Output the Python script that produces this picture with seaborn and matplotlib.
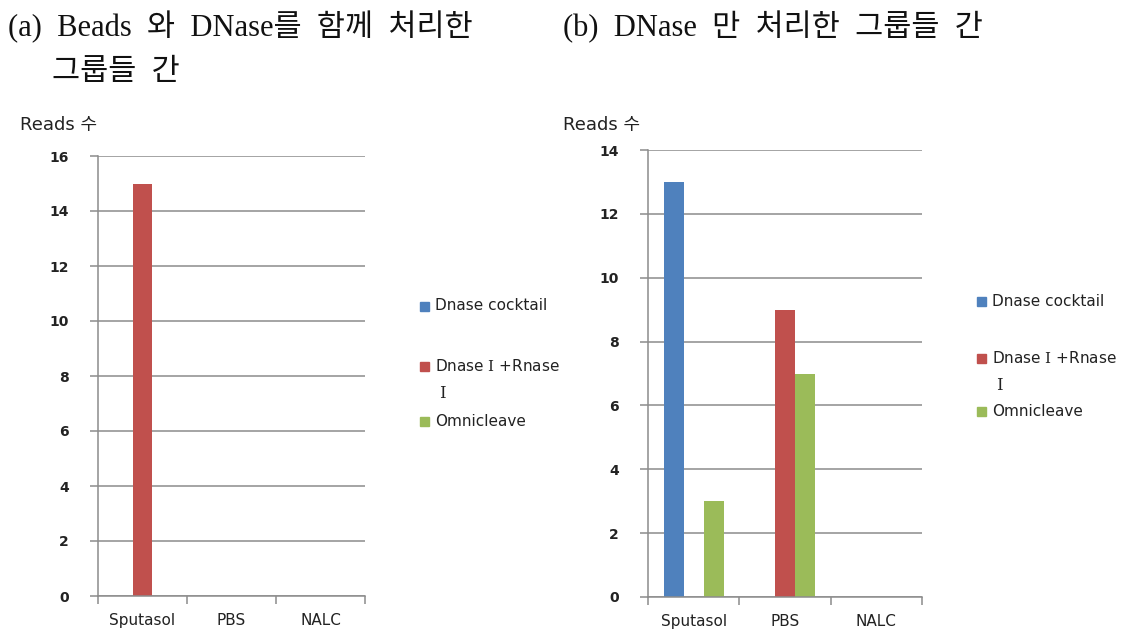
import matplotlib
matplotlib.use("Agg")
import matplotlib.pyplot as plt
import seaborn as sns
import pandas as pd
from matplotlib.patches import Rectangle

# ---- data ----
categories = ["Sputasol", "PBS", "NALC"]
series_names = ["Dnase cocktail", "Dnase I +Rnase I", "Omnicleave"]
legend_first = ["Dnase cocktail", r"Dnase $\mathrm{I}$ +Rnase", "Omnicleave"]
legend_second = ["", r"$\mathrm{I}$", ""]
colors = ["#4F81BD", "#C0504D", "#9BBB59"]

# (a) Beads + DNase
a_cocktail = [0, 0, 0]
a_dnase_rnase = [15, 0, 0]
a_omni = [0, 0, 0]
# (b) DNase only
b_cocktail = [13, 0, 0]
b_dnase_rnase = [0, 9, 0]
b_omni = [3, 7, 0]

a_ticks = [0, 2, 4, 6, 8, 10, 12, 14, 16]
b_ticks = [0, 2, 4, 6, 8, 10, 12, 14]

title_a1 = "(a)  Beads  와  DNase를  함께  처리한"
title_a2 = "그룹들  간"
title_b = "(b)  DNase  만  처리한  그룹들  간"
ylabel = "Reads 수"


def long_df(vals_list):
    rows = []
    for name, vals in zip(series_names, vals_list):
        for c, v in zip(categories, vals):
            rows.append({"cat": c, "series": name, "val": v})
    return pd.DataFrame(rows)


df_a = long_df([a_cocktail, a_dnase_rnase, a_omni])
df_b = long_df([b_cocktail, b_dnase_rnase, b_omni])

sns.set_theme(style="white")
SANS = ["DejaVu Sans", "Noto Sans CJK KR"]
SERIF = ["Liberation Serif", "Noto Sans CJK KR", "DejaVu Sans"]
plt.rcParams["font.family"] = SANS
plt.rcParams["mathtext.fontset"] = "dejavuserif"

W, H = 1143, 633
fig = plt.figure(figsize=(W / 100, H / 100), dpi=100)
fig.patch.set_facecolor("white")


def fx(px):
    return px / W


def fy(py):
    return 1 - py / H


def make_axes(x0, x1, ytop, ybot):
    return fig.add_axes([fx(x0), fy(ybot), fx(x1) - fx(x0), fy(ytop) - fy(ybot)])


ax_a = make_axes(98, 365, 156, 596)
ax_b = make_axes(648, 922, 150, 597)

GRID = "#8c8c8c"
TXT = "#222222"

for ax, df, ticks in [(ax_a, df_a, a_ticks), (ax_b, df_b, b_ticks)]:
    sns.barplot(data=df, x="cat", y="val", hue="series", order=categories,
                hue_order=series_names, palette=colors, width=0.66, gap=0,
                saturation=1, ax=ax, legend=False, edgecolor="none")
    ax.set_xlim(-0.5, 2.5)
    ax.set_ylim(ticks[0], ticks[-1])
    ax.set_yticks(ticks)
    ax.set_yticklabels([str(t) for t in ticks], fontsize=10, color=TXT,
                       fontweight="bold")
    ax.yaxis.grid(True, color=GRID, linewidth=1.1)
    ax.set_axisbelow(True)
    ax.set_xlabel("")
    ax.set_ylabel("")
    for s in ["top", "right"]:
        ax.spines[s].set_visible(False)
    for s in ["left", "bottom"]:
        ax.spines[s].set_visible(True)
        ax.spines[s].set_color(GRID)
        ax.spines[s].set_linewidth(1.1)
    ax.tick_params(axis="y", which="major", left=True, length=6, width=1.1,
                   color=GRID, pad=15, direction="out")
    ax.set_xticks([-0.5, 0.5, 1.5, 2.5])
    ax.set_xticklabels(["", "", "", ""])
    ax.set_xticks([0, 1, 2], minor=True)
    ax.set_xticklabels(categories, minor=True, fontsize=11, color=TXT)
    ax.tick_params(axis="x", which="major", bottom=True, length=6, width=1.1,
                   color=GRID, direction="out")
    ax.tick_params(axis="x", which="minor", bottom=False, length=0, pad=12)

# titles
TCOL = "#111111"
for (xp, yp, txt) in [(8, 27, title_a1), (52, 72, title_a2), (563, 27, title_b)]:
    fig.text(fx(xp), fy(yp), txt, fontsize=22, family=SERIF,
             fontweight="light", va="center", ha="left", color=TCOL)

# y-axis labels
fig.text(fx(20), fy(125), ylabel, fontsize=13, va="center", ha="left",
         color=TXT)
fig.text(fx(563), fy(125), ylabel, fontsize=13, va="center", ha="left",
         color=TXT)


# legends
def draw_legend(x, ys):
    for yc, first, second, col in zip(ys, legend_first, legend_second, colors):
        fig.patches.append(Rectangle((fx(x), fy(yc + 4.5)), fx(9), 9 / H,
                                     transform=fig.transFigure, color=col))
        fig.text(fx(x + 15), fy(yc), first, fontsize=11, va="center",
                 ha="left", color=TXT)
        if second:
            fig.text(fx(x + 19), fy(yc + 27), second, fontsize=12,
                     va="center", ha="left", color=TXT)


draw_legend(420, [306, 366, 421])
draw_legend(977, [301, 358, 411])

fig.savefig("out.png", dpi=100, facecolor="white")
